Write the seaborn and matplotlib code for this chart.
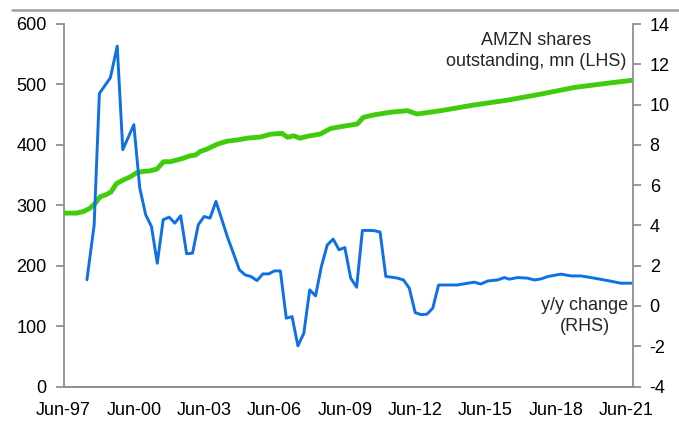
import matplotlib
matplotlib.use("Agg")
import matplotlib.pyplot as plt
import matplotlib.dates as mdates
from matplotlib.lines import Line2D
import pandas as pd
import seaborn as sns

# Shares outstanding, mn (LHS)
shares_dates = ["1997-06-30", "1998-01-20", "1998-05-05", "1998-08-15", "1998-11-05",
                "1999-01-20", "1999-05-05", "1999-07-10", "1999-10-05", "2000-01-20",
                "2000-05-05", "2000-08-15", "2000-11-25", "2001-03-10", "2001-06-25",
                "2001-10-05", "2002-01-15", "2002-05-05", "2002-08-15", "2002-11-25",
                "2003-02-15", "2003-05-01", "2003-08-15", "2004-01-20", "2004-06-20",
                "2004-11-25", "2005-05-01", "2005-11-25", "2006-04-25", "2006-10-25",
                "2007-01-20", "2007-04-25", "2007-08-01", "2007-11-20", "2008-06-15",
                "2008-11-20", "2009-04-25", "2010-01-10", "2010-04-15", "2010-09-25",
                "2011-06-15", "2012-03-01", "2012-08-01", "2013-08-01", "2015-01-05",
                "2016-06-10", "2017-11-10", "2019-04-15", "2020-09-15", "2021-10-15"]
shares_mn = [287, 287, 289.5, 295, 303,
             314, 318, 322, 336, 342,
             347, 354, 356, 357, 360,
             372, 372, 375, 378, 382,
             383, 389, 393, 401, 406,
             408, 411, 413, 417.5, 419,
             412.5, 415, 411, 414, 418,
             427, 430, 434.5, 445.5, 449.5,
             454, 456.5, 451, 456.5, 466,
             474, 484, 495, 502, 507]

# y/y change, % (RHS)
yoy_dates = ["1998-06-30", "1998-10-20", "1999-01-10", "1999-06-30", "1999-10-15",
             "2000-01-10", "2000-06-30", "2000-09-30", "2000-12-31", "2001-03-31",
             "2001-06-30", "2001-09-30", "2001-12-31", "2002-03-31", "2002-06-30",
             "2002-09-30", "2002-12-31", "2003-03-31", "2003-06-30", "2003-09-30",
             "2003-12-31", "2004-03-31", "2004-06-30", "2004-09-30", "2004-12-31",
             "2005-03-31", "2005-06-30", "2005-09-30", "2005-12-31", "2006-03-31",
             "2006-06-30", "2006-09-30", "2006-12-31", "2007-03-31", "2007-06-30",
             "2007-09-30", "2007-12-31", "2008-03-31", "2008-06-30", "2008-09-30",
             "2008-12-31", "2009-03-31", "2009-06-30", "2009-09-30", "2009-12-31",
             "2010-03-31", "2010-06-30", "2010-09-30", "2010-12-31", "2011-03-31",
             "2011-06-30", "2011-09-30", "2011-12-31", "2012-03-31", "2012-06-30",
             "2012-09-30", "2012-12-31", "2013-03-31", "2013-06-30", "2014-04-15",
             "2015-01-05", "2015-04-20", "2015-08-05", "2016-01-05", "2016-04-20",
             "2016-07-05", "2016-11-15", "2017-04-15", "2017-07-30", "2017-11-10",
             "2018-02-25", "2018-09-20", "2019-02-25", "2019-07-25", "2020-02-20",
             "2020-09-15", "2021-04-10", "2021-10-15"]
yoy_pct = [1.3, 4.0, 10.55, 11.33, 12.9,
           7.76, 9.0, 5.86, 4.53, 3.95,
           2.12, 4.28, 4.41, 4.11, 4.48,
           2.59, 2.62, 4.03, 4.44, 4.36,
           5.19, 4.3, 3.4, 2.6, 1.79,
           1.54, 1.46, 1.26, 1.59, 1.59,
           1.74, 1.74, -0.61, -0.53, -1.98,
           -1.36, 0.8, 0.5, 1.96, 3.03,
           3.32, 2.79, 2.9, 1.38, 0.93,
           3.75, 3.75, 3.74, 3.67, 1.46,
           1.43, 1.38, 1.29, 0.88, -0.33,
           -0.43, -0.41, -0.11, 1.04, 1.04,
           1.18, 1.09, 1.24, 1.29, 1.41,
           1.33, 1.41, 1.38, 1.29, 1.34,
           1.46, 1.58, 1.49, 1.49, 1.38,
           1.26, 1.13, 1.13]

left_ticks = [0, 100, 200, 300, 400, 500, 600]
right_ticks = [-4, -2, 0, 2, 4, 6, 8, 10, 12, 14]
x_tick_dates = ["1997-06-30", "2000-06-30", "2003-06-30", "2006-06-30", "2009-06-30",
                "2012-06-30", "2015-06-30", "2018-06-30", "2021-06-30"]

df_shares = pd.DataFrame({"date": pd.to_datetime(shares_dates), "shares": shares_mn})
df_yoy = pd.DataFrame({"date": pd.to_datetime(yoy_dates), "yoy": yoy_pct})

sns.set_style("white")
plt.rcParams["font.family"] = ["Liberation Sans", "DejaVu Sans"]
plt.rcParams["axes.unicode_minus"] = False

GREEN = "#3fcc0a"
BLUE = "#0e6fe6"
AXC = "#8a9099"
FS = 13

fig = plt.figure(figsize=(6.79, 4.23), dpi=100)
ax = fig.add_subplot(111)
fig.subplots_adjust(left=63.5 / 679, right=633 / 679, top=1 - 24 / 423, bottom=1 - 386.5 / 423)
ax2 = ax.twinx()

sns.lineplot(data=df_shares, x="date", y="shares", ax=ax, color=GREEN, linewidth=3.5, zorder=3)
sns.lineplot(data=df_yoy, x="date", y="yoy", ax=ax2, color=BLUE, linewidth=2.1, zorder=2)

ax.set_ylim(0, 600)
ax2.set_ylim(-4, 14)
ax.set_yticks(left_ticks)
ax2.set_yticks(right_ticks)
ax.set_xlim(pd.Timestamp("1997-06-30"), pd.Timestamp("2021-10-15"))
ax.set_xticks(pd.to_datetime(x_tick_dates))
ax.xaxis.set_major_formatter(mdates.DateFormatter("%b-%y"))

for a in (ax, ax2):
    a.set_xlabel("")
    a.set_ylabel("")
    a.spines["top"].set_visible(False)
    for s in ("left", "right", "bottom"):
        a.spines[s].set_color(AXC)
        a.spines[s].set_linewidth(1.3)
    a.tick_params(axis="both", colors=AXC, labelcolor="black", labelsize=FS,
                  length=6, width=1.3, direction="out")
    a.grid(False)
ax.spines["right"].set_visible(False)
ax2.spines["left"].set_visible(False)
ax.tick_params(axis="y", pad=6)
ax2.tick_params(axis="y", pad=6)
ax.tick_params(axis="x", pad=5)

fig.text(536 / 679, 1 - 51 / 423, "AMZN shares\noutstanding, mn (LHS)", ha="center", va="center",
         fontsize=FS, linespacing=1.3)
fig.text(585 / 679, 1 - 316 / 423, "y/y change\n(RHS)", ha="center", va="center",
         fontsize=FS, linespacing=1.3)

fig.add_artist(Line2D([12 / 679, 1.0], [1 - 10 / 423, 1 - 10 / 423], transform=fig.transFigure,
                      color="#9aa1aa", linewidth=1.8))

fig.savefig("out.png", dpi=100)
